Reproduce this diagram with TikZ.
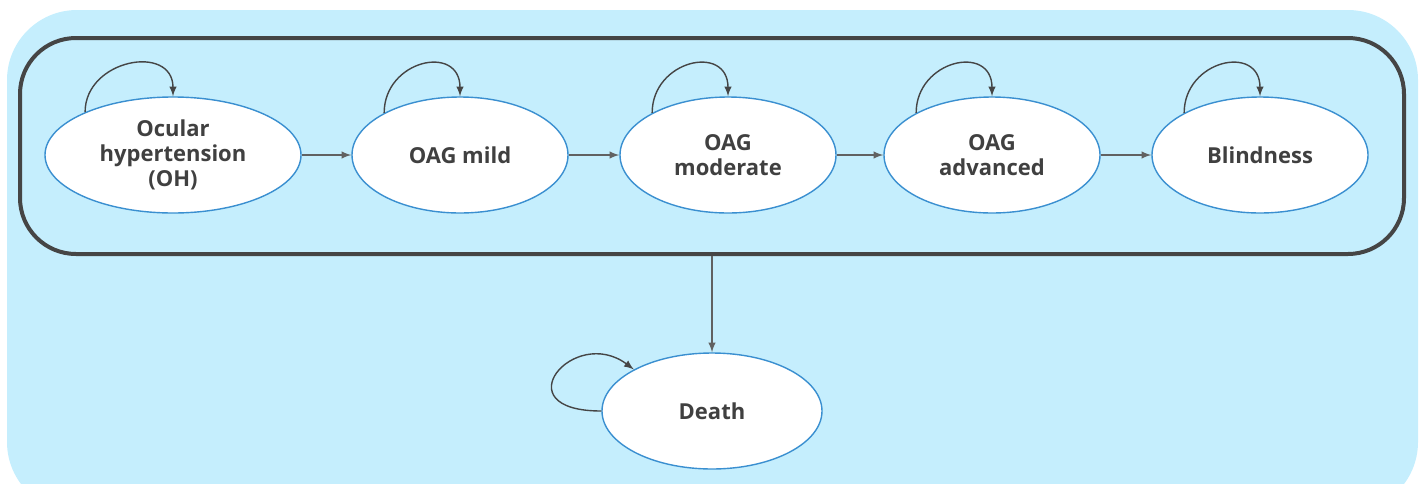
\documentclass[tikz,border=0pt]{standalone}
\usepackage{fontspec}
\setmainfont{Open Sans}
\usetikzlibrary{shapes.geometric}

\definecolor{skyback}{HTML}{C5EEFD}
\definecolor{stateline}{HTML}{3A8FD0}
\definecolor{darkline}{HTML}{454545}
\definecolor{textgray}{HTML}{404040}

\begin{document}
\begin{tikzpicture}[x=0.5pt, y=-0.5pt,
  state/.style={ellipse, draw=stateline, line width=0.7pt, fill=white,
    minimum width=108pt, minimum height=58pt, inner sep=0pt, align=center,
    font=\bfseries\fontsize{11}{12.5}\selectfont, text=textgray},
  trans/.style={->, >=latex, line width=0.7pt, draw=darkline!85},
  stay/.style={->, >=latex, line width=0.7pt, draw=darkline}]

% Fix the page size and clip the background to it
\useasboundingbox (0,0) rectangle (1425,483);
\clip (0,0) rectangle (1425,483);

% Draw the light blue background
\fill [skyback, rounded corners=35pt] (7,10) rectangle (1418,512);

% Draw the frame round the disease states
\node (frame) [draw=darkline, line width=2pt, rounded corners=28pt,
  minimum width=692pt, minimum height=108pt] at (712,146) {};

% Draw the states
\node (oh) [state, minimum width=128pt] at (173,155) {Ocular\\hypertension\\(OH)};
\node (mild) [state] at (460,155) {OAG mild};
\node (moderate) [state] at (728,155) {OAG\\moderate};
\node (advanced) [state] at (992,155) {OAG\\advanced};
\node (blind) [state] at (1260,155) {Blindness};
\node (death) [state, minimum width=110pt] at (712,411) {Death};

% Draw the transitions between the states
\foreach \a/\b in {oh/mild, mild/moderate, moderate/advanced, advanced/blind}
  \draw [trans] (\a) -- (\b);
\draw [trans] (frame.south) -- (death.north);

% Draw the self loops
\foreach \s/\ang in {oh/154, mild/151, moderate/151, advanced/151, blind/151}
  \draw [stay] (\s.\ang) .. controls +(0,-53) and +(0,-53) .. (\s.north);
\draw [stay] (death.west) .. controls +(-100,0) and +(-60,-45) .. (death.152);

\end{tikzpicture}
\end{document}
